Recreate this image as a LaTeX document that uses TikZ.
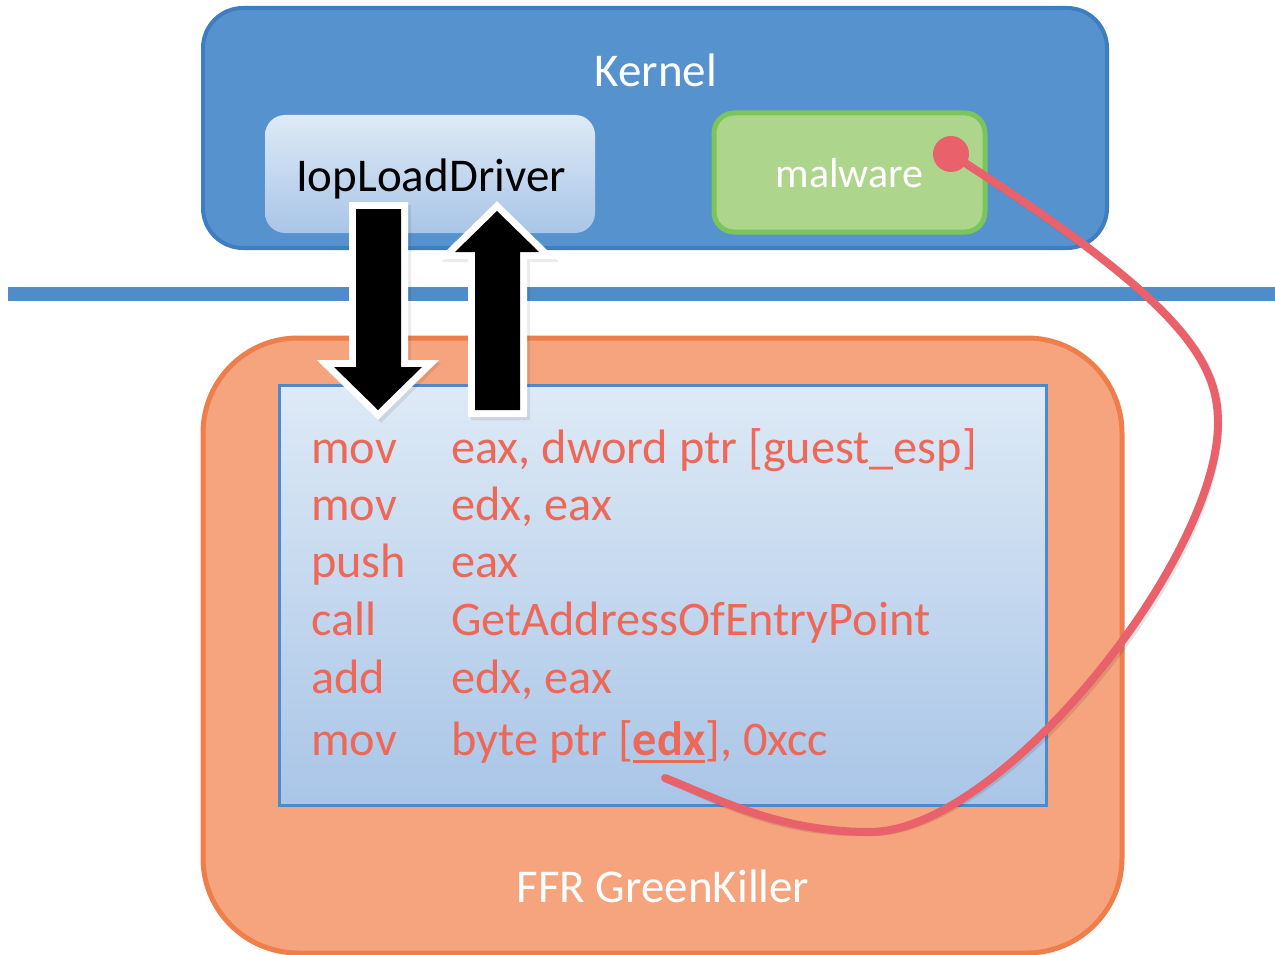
\documentclass[tikz,border=0pt]{standalone}
\usepackage{fontspec}
\setmainfont{Carlito}
\usetikzlibrary{calc}

\definecolor{kernelfill}{HTML}{5692CE}
\definecolor{kernelline}{HTML}{3E7EC0}
\definecolor{boxtop}{HTML}{DEEAF6}
\definecolor{boxbot}{HTML}{A9C5E7}
\definecolor{malfill}{HTML}{AED58C}
\definecolor{malline}{HTML}{7CC55B}
\definecolor{sepblue}{HTML}{4F8CC9}
\definecolor{ffrfill}{HTML}{F5A47E}
\definecolor{ffrline}{HTML}{EF7E4A}
\definecolor{codeline}{HTML}{4C8BCB}
\definecolor{codered}{HTML}{EE6858}
\definecolor{hookred}{HTML}{E9626B}

% solid underline in the current text colour
\newcommand{\codeul}[1]{\leavevmode\setbox0\hbox{#1}\rlap{\raisebox{-8pt}{\rule{\wd0}{2.6pt}}}\box0}

\tikzset{
  bigtext/.style={font=\fontsize{47}{56}\selectfont, inner sep=0pt},
  codetext/.style={font=\fontsize{48.3}{58}\selectfont, inner sep=0pt, text=codered, anchor=base west},
  kernelbox/.style={draw=kernelline, fill=kernelfill, line width=4pt, rounded corners=40pt,
    minimum width=904pt, minimum height=240pt, inner sep=0pt},
  funcbox/.style={top color=boxtop, bottom color=boxbot, draw=none, rounded corners=20pt,
    minimum width=330pt, minimum height=118pt, inner sep=0pt},
  malbox/.style={draw=malline, fill=malfill, line width=5pt, rounded corners=20pt,
    minimum width=271pt, minimum height=119pt, inner sep=0pt},
  ffrbox/.style={draw=ffrline, fill=ffrfill, line width=5pt, rounded corners=95pt,
    minimum width=919pt, minimum height=615pt, inner sep=0pt},
  codebox/.style={draw=codeline, top color=boxtop, bottom color=boxbot, line width=3pt,
    minimum width=767pt, minimum height=420pt, inner sep=0pt},
  arrowrim/.style={draw=white, line width=14pt, line join=miter},
  arrowbody/.style={fill=black},
  arrowshade/.style={fill=black, opacity=0.08},
  hook/.style={draw=hookred, line width=8pt, line cap=round},
}

\begin{document}
\begin{tikzpicture}[x=1pt, y=-1pt]
\useasboundingbox (0,0) rectangle (1275,955);
\fill[white] (0,0) rectangle (1275,955);

% kernel space
\node[kernelbox] (kernel) at (655,128) {};
\node[bigtext, text=white, anchor=base] (kernellabel) at (656,87) {Kernel};

\node[funcbox] (iop) at (430,174) {};
\node[bigtext, text=black, anchor=base] (ioplabel) at (431,191) {IopLoadDriver};

\node[malbox] (mal) at (849.5,172.5) {};
\node[font=\fontsize{42}{50}\selectfont, inner sep=0pt, text=white, anchor=base] (mallabel) at (849.5,187) {malware};

% kernel / hypervisor boundary
\coordinate (sepL) at (8,294);
\coordinate (sepR) at (1275,294);
\draw[sepblue, line width=14pt] (sepL) -- (sepR);

% FFR GreenKiller
\node[ffrbox] (ffr) at (662.5,645.5) {};
\node[codebox] (code) at (662.5,595) {};
\node[bigtext, text=white, anchor=base] (ffrlabel) at (663,902) {FFR GreenKiller};

% handler code
\node[codetext] (op1) at (311,463) {mov};
\node[codetext] (arg1) at (451,463) {eax, dword ptr [guest\_esp]};
\node[codetext] (op2) at (311,520) {mov};
\node[codetext] (arg2) at (451,520) {edx, eax};
\node[codetext] (op3) at (311,577) {push};
\node[codetext] (arg3) at (451,577) {eax};
\node[codetext] (op4) at (311,635) {call};
\node[codetext] (arg4) at (451,635) {GetAddressOfEntryPoint};
\node[codetext] (op5) at (311,693) {add};
\node[codetext] (arg5) at (451,693) {edx, eax};
\node[codetext] (op6) at (311,755) {mov};
\node[codetext] (arg6) at (451,755) {byte ptr [\codeul{\textbf{edx}}], 0xcc};

% call into and return from the handler
\def\downarrowpath{(356,209) -- (401,209) -- (401,367) -- (422,367) -- (378,410) -- (334,367) -- (356,367) -- cycle}
\def\uparrowpath{(475,410) -- (520,410) -- (520,252) -- (539,252) -- (497,211) -- (455,252) -- (475,252) -- cycle}
\begin{scope}[shift={(3,3)}]
  \fill[arrowshade] (347,202) -- (408,202) -- (408,360) -- (438,360) -- (378,420) -- (318,360) -- (347,360) -- cycle;
  \fill[arrowshade] (468,417) -- (527,417) -- (527,259) -- (556,259) -- (497,201) -- (438,259) -- (468,259) -- cycle;
\end{scope}
\draw[arrowrim] \downarrowpath;
\fill[arrowbody] \downarrowpath;
\draw[arrowrim] \uparrowpath;
\fill[arrowbody] \uparrowpath;

% hook from the patched entry point to the malware
\node[circle, fill=hookred, minimum size=36pt, inner sep=0pt] (dot) at (951,154) {};
\coordinate (turn) at (1218,423);
\coordinate (low) at (870,832);
\coordinate (edxmark) at (665,778);
\begin{scope}[shift={(3,3)}]
  \draw[hook, draw=black, opacity=0.10] (dot.center) .. controls (1180,300) and (1218,360) .. (turn)
    .. controls (1218,560) and (1000,832) .. (low)
    .. controls (780,832) and (720,800) .. (edxmark);
\end{scope}
\draw[hook] (dot.center) .. controls (1180,300) and (1218,360) .. (turn)
  .. controls (1218,560) and (1000,832) .. (low)
  .. controls (780,832) and (720,800) .. (edxmark);
\end{tikzpicture}
\end{document}
